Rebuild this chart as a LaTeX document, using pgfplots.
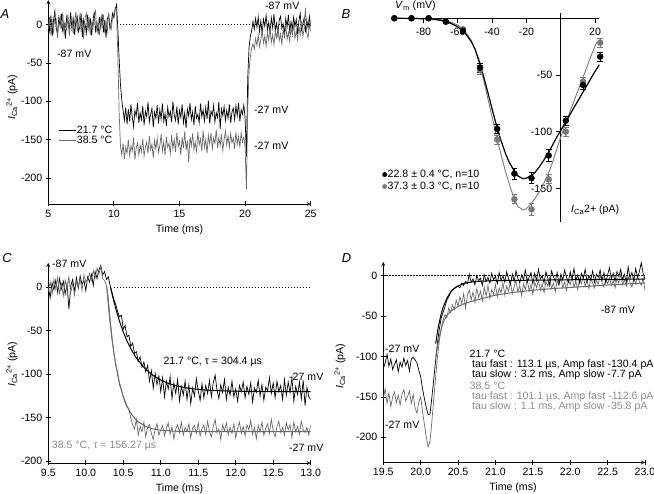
\documentclass[border=0pt]{standalone}
\usepackage{fontspec}
\setmainfont{Liberation Sans}
\usepackage{pgfplots}
\pgfplotsset{compat=1.18}
\usepackage{pgfplotstable}

\definecolor{trgray}{gray}{0.42}
\definecolor{ptgray}{gray}{0.47}
\definecolor{txgray}{gray}{0.55}
\newcommand{\fsz}{\fontsize{10.6}{12.7}\selectfont}
\newcommand{\Ica}{\textit{I}\textsubscript{Ca}\textsuperscript{2+} (pA)}

\pgfplotsset{
  igorbase/.style={
    scale only axis,
    axis line style={-, line width=0.8pt, black},
    tick align=outside,
    major tick length=5pt,
    tick style={black, line width=0.8pt},
    tick label style={font=\fsz},
    /pgf/number format/assume math mode=true,
    minor tick num=0,
  },
  igor/.style={igorbase, axis x line=bottom, axis y line=left},
  onedec/.style={x tick label style={/pgf/number format/.cd, fixed, fixed zerofill, precision=1, /tikz/.cd}},
  zeroline/.style={black, line width=0.6pt, dash pattern=on 1.5pt off 1.5pt, forget plot},
}

\pgfplotstableread{
t k g
5.0 3 -6
5.1 -8 10
5.2 12 -14
5.3 -15 4
5.4 6 -9
5.5 18 13
5.6 -4 7
5.7 -12 -17
5.8 9 2
5.9 -2 11
6.0 14 -5
6.1 -10 16
6.2 4 -11
6.3 -18 1
6.4 10 -7
6.5 2 14
6.6 -7 -15
6.7 16 5
6.8 -5 9
6.9 8 -12
7.0 -13 3
7.1 5 17
7.2 11 -8
7.3 -9 -1
7.4 -3 12
7.5 15 -10
7.6 -16 6
7.7 7 -19
7.8 1 8
7.9 -11 15
8.0 13 -4
8.1 -6 10
8.2 9 -13
8.3 -14 2
8.4 4 -6
8.5 17 11
8.6 -8 18
8.7 2 -9
8.8 -12 5
8.9 10 -14
9.0 -4 7
9.1 14 -2
9.2 -10 13
9.3 6 -11
9.4 -17 4
9.5 8 -8
9.6 12 16
9.7 -5 1
9.8 3 -6
9.9 15 10
10.0 9 14
10.1 20 22
10.2 26 18
10.3 -5 -40
10.4 -45 -115
10.5 -78 -158
10.6 -98 -170
10.7 -112 -155
10.8 -125 -175
10.9 -108 -160
11.0 -130 -168
11.1 -110 -150
11.2 -126 -171
11.3 -104 -158
11.4 -121 -165
11.5 -133 -147
11.6 -112 -176
11.7 -119 -161
11.8 -102 -154
11.9 -128 -170
12.0 -115 -157
12.1 -124 -166
12.2 -106 -149
12.3 -131 -172
12.4 -113 -160
12.5 -120 -153
12.6 -101 -168
12.7 -127 -145
12.8 -117 -163
12.9 -109 -156
13.0 -134 -174
13.1 -114 -151
13.2 -122 -162
13.3 -105 -148
13.4 -129 -167
13.5 -111 -158
13.6 -123 -143
13.7 -103 -165
13.8 -126 -153
13.9 -116 -170
14.0 -132 -146
14.1 -108 -160
14.2 -120 -155
14.3 -113 -168
14.4 -127 -144
14.5 -100 -162
14.6 -118 -150
14.7 -125 -166
14.8 -107 -141
14.9 -130 -159
15.0 -112 -152
15.1 -121 -170
15.2 -104 -147
15.3 -128 -161
15.4 -115 -139
15.5 -135 -164
15.6 -110 -151
15.7 -119 -180
15.8 -102 -146
15.9 -124 -158
16.0 -114 -142
16.1 -131 -163
16.2 -106 -153
16.3 -122 -167
16.4 -117 -140
16.5 -128 -157
16.6 -103 -149
16.7 -120 -165
16.8 -111 -138
16.9 -126 -160
17.0 -108 -150
17.1 -123 -168
17.2 -99 -144
17.3 -129 -156
17.4 -113 -141
17.5 -118 -162
17.6 -105 -148
17.7 -127 -155
17.8 -115 -137
17.9 -121 -161
18.0 -101 -147
18.1 -136 -158
18.2 -110 -143
18.3 -119 -164
18.4 -107 -150
18.5 -125 -139
18.6 -112 -157
18.7 -122 -145
18.8 -104 -160
18.9 -128 -142
19.0 -114 -154
19.1 -109 -148
19.2 -124 -162
19.3 -106 -140
19.4 -119 -156
19.5 -102 -146
19.6 -126 -159
19.7 -111 -141
19.8 -117 -153
19.9 -105 -147
20.0 -121 -160
20.1 -172 -215
20.2 -70 -110
20.3 -30 -60
20.4 -15 -42
20.5 -8 -30
20.6 4 -25
20.7 -6 -32
20.8 8 -18
20.9 -3 -27
21.0 10 -14
21.1 -9 -29
21.2 5 -19
21.3 -12 -8
21.4 7 -24
21.5 -2 -15
21.6 12 -28
21.7 -7 -10
21.8 3 -20
21.9 -10 -5
22.0 9 -23
22.1 -4 -13
22.2 14 -26
22.3 -8 -9
22.4 2 -17
22.5 -13 -3
22.6 6 -21
22.7 11 -12
22.8 -5 -25
22.9 1 -6
23.0 -11 -16
23.1 8 -1
23.2 -3 -19
23.3 13 -10
23.4 -9 -22
23.5 4 -4
23.6 -6 -14
23.7 10 2
23.8 -2 -18
23.9 7 -8
24.0 -12 -20
24.1 5 -2
24.2 15 -13
24.3 -7 5
24.4 0 -15
24.5 9 -6
24.6 -10 22
24.7 6 -11
24.8 -4 -17
24.9 11 0
25.0 -3 -9
}\tabA

\pgfplotstableread{
t k g
9.500 0 -5
9.525 -12 6
9.550 5 -8
9.575 -3 9
9.600 8 -2
9.625 -6 11
9.650 10 -7
9.675 -2 4
9.700 7 -10
9.725 -8 8
9.750 4 -3
9.775 -25 12
9.800 2 -6
9.825 9 5
9.850 -5 -9
9.875 11 7
9.900 -1 1
9.925 13 10
9.950 3 -4
9.975 8 14
10.000 -4 6
10.025 12 9
10.050 6 16
10.075 15 8
10.100 2 19
10.125 18 11
10.150 10 22
10.175 20 15
10.200 25 24
10.225 14 10
10.250 18 8
10.275 9 2
10.300 12 -12
10.325 2 -36
10.350 -6 -58
10.375 -14 -76
10.400 -20 -90
10.425 -28 -98
10.450 -34 -112
10.475 -32 -118
10.500 -48 -126
10.525 -44 -133
10.550 -57 -138
10.575 -55 -140
10.600 -68 -150
10.625 -64 -158
10.650 -76 -163
10.675 -74 -152
10.700 -85 -170
10.725 -80 -160
10.750 -92 -166
10.775 -86 -155
10.800 -97 -172
10.825 -90 -161
10.850 -108 -158
10.875 -96 -168
10.900 -116 -175
10.925 -99 -163
10.950 -112 -157
10.975 -102 -170
11.000 -120 -164
11.025 -104 -159
11.050 -126 -171
11.075 -108 -162
11.100 -117 -156
11.125 -103 -169
11.150 -128 -160
11.175 -110 -174
11.200 -122 -163
11.225 -106 -158
11.250 -131 -167
11.275 -114 -155
11.300 -124 -170
11.325 -108 -161
11.350 -129 -166
11.375 -112 -157
11.400 -134 -173
11.425 -116 -162
11.450 -125 -159
11.475 -105 -168
11.500 -119 -156
11.525 -130 -171
11.550 -111 -163
11.575 -127 -158
11.600 -113 -169
11.625 -122 -154
11.650 -107 -166
11.675 -126 -172
11.700 -110 -160
11.725 -101 -152
11.750 -118 -167
11.775 -128 -163
11.800 -112 -175
11.825 -121 -158
11.850 -106 -165
11.875 -129 -156
11.900 -115 -170
11.925 -124 -161
11.950 -108 -168
11.975 -126 -157
12.000 -117 -173
12.025 -131 -162
12.050 -113 -155
12.075 -120 -168
12.100 -109 -160
12.125 -127 -171
12.150 -114 -158
12.175 -123 -164
12.200 -110 -153
12.225 -132 -169
12.250 -116 -161
12.275 -121 -174
12.300 -107 -159
12.325 -125 -166
12.350 -112 -155
12.375 -130 -170
12.400 -115 -162
12.425 -119 -157
12.450 -104 -168
12.475 -122 -152
12.500 -110 -165
12.525 -127 -172
12.550 -108 -160
12.575 -120 -154
12.600 -113 -167
12.625 -129 -161
12.650 -106 -170
12.675 -124 -156
12.700 -109 -164
12.725 -121 -158
12.750 -104 -173
12.775 -131 -155
12.800 -114 -166
12.825 -123 -160
12.850 -109 -169
12.875 -128 -154
12.900 -107 -163
12.925 -136 -167
12.950 -115 -161
12.975 -126 -170
13.000 -129 -158
}\tabC

\pgfplotstableread{
t k g
19.500 -115 -152
19.525 -108 -140
19.550 -97 -158
19.575 -112 -145
19.600 -103 -162
19.625 -116 -150
19.650 -110 -144
19.675 -104 -157
19.700 -119 -148
19.725 -107 -160
19.750 -113 -146
19.775 -102 -141
19.800 -111 -155
19.825 -105 -149
19.850 -118 -143
19.875 -103 -158
19.900 -101 -147
19.925 -104 -164
19.950 -108 -170
19.975 -117 -156
20.000 -125 -150
20.025 -140 -168
20.050 -152 -184
20.075 -163 -200
20.100 -172 -212
20.125 -171 -205
20.150 -150 -180
20.175 -128 -152
20.200 -105 -125
20.225 -82 -100
20.250 -66 -80
20.275 -52 -65
20.300 -45 -55
20.325 -38 -48
20.350 -30 -52
20.375 -26 -40
20.400 -21 -46
20.425 -17 -36
20.450 -16 -42
20.475 -14 -30
20.500 -13 -38
20.525 -15 -26
20.550 -9 -35
20.575 -12 -22
20.600 -7 -40
20.625 -10 -24
20.650 2 -18
20.675 -8 -30
20.700 -4 -20
20.725 -11 -33
20.750 0 -16
20.775 -6 -27
20.800 -3 -19
20.825 -12 -31
20.850 1 -14
20.875 -7 -25
20.900 -2 -12
20.925 -9 -28
20.950 3 -17
20.975 -5 -23
21.000 -1 -11
21.025 -10 -26
21.050 4 -15
21.075 -6 -21
21.100 0 -9
21.125 -8 -24
21.150 5 -13
21.175 -4 -19
21.200 -11 -8
21.225 2 -22
21.250 -7 -14
21.275 6 -6
21.300 -3 -20
21.325 -9 -12
21.350 1 -25
21.375 -5 -10
21.400 7 -17
21.425 -8 -4
21.450 -2 -19
21.475 4 -11
21.500 -10 -23
21.525 3 -8
21.550 -6 -15
21.575 8 -5
21.600 -4 -18
21.625 0 -10
21.650 -9 -21
21.675 5 -7
21.700 -3 -13
21.725 -12 -3
21.750 6 -16
21.775 -1 -9
21.800 -7 -20
21.825 4 -6
21.850 -10 -12
21.875 2 -2
21.900 -5 -15
21.925 7 -8
21.950 -2 -18
21.975 -8 -5
22.000 5 -11
22.025 -4 -1
22.050 9 -14
22.075 -6 -7
22.100 1 -17
22.125 -9 -4
22.150 3 -10
22.175 -3 0
22.200 8 -13
22.225 -7 -6
22.250 0 -16
22.275 -5 -3
22.300 6 -9
22.325 -8 -15
22.350 2 -5
22.375 -2 -11
22.400 7 1
22.425 -6 -8
22.450 4 -14
22.475 -9 -4
22.500 1 -10
22.525 10 -2
22.550 -4 -12
22.575 3 -6
22.600 -7 -15
22.625 5 -3
22.650 -1 -9
22.675 8 2
22.700 -5 -11
22.725 2 -5
22.750 -8 -13
22.775 11 -1
22.800 -3 -8
22.825 4 -14
22.850 -6 -4
22.875 9 -10
22.900 -2 0
22.925 5 -7
22.950 16 -12
22.975 3 -3
23.000 -4 -18
}\tabD

\begin{document}
\begin{tikzpicture}[x=1pt,y=1pt]
\useasboundingbox (0,0) rectangle (654,494);

% ---------------- Panel A ----------------
\begin{axis}[igor, at={(48.3pt,290pt)}, anchor=south west,
  width=262.4pt, height=203.8pt,
  xmin=5, xmax=25, ymin=-234, ymax=32,
  xtick={5,10,15,20,25}, ytick={-200,-150,-100,-50,0},
  legend style={at={(axis cs:5.75,-130.5)}, anchor=north west, draw=none, fill=none,
    font=\fsz, inner sep=0pt, row sep=0pt, nodes={inner sep=0.8pt}},
  legend cell align=left]
\addplot[black, line width=0.7pt] table[x=t, y=k] {\tabA};
\addlegendentry{21.7 °C}
\addplot[trgray, line width=0.7pt] table[x=t, y=g] {\tabA};
\addlegendentry{38.5 °C}
\addplot[zeroline] coordinates {(10.45,0) (25,0)};
\end{axis}

% ---------------- Panel B ----------------
\begin{axis}[igorbase, axis lines=middle,
  axis line style={-, line width=0.8pt, black},
  every inner x axis line/.append style={-},
  every inner y axis line/.append style={-},
  tick align=outside,
  x tick label style={yshift=-1pt},
  at={(394.3pt,271.6pt)}, anchor=south west,
  width=205pt, height=209.8pt, clip=false,
  xmin=-97, xmax=22.5, ymin=-180, ymax=5,
  xtick={-80,-60,-40,-20,20}, ytick={-150,-100,-50},
  legend style={at={(axis cs:-104,-133)}, anchor=north west, draw=none, fill=none,
    font=\fsz, inner sep=0pt, row sep=1.5pt, nodes={inner sep=0.8pt}},
  legend cell align=left,
  legend image code/.code={\draw[#1] plot coordinates {(0.12cm,0cm)};}]
\addplot[ptgray, line width=0.9pt, forget plot] coordinates {
(-97,0) (-85,-0.1) (-75,-0.5) (-70,-1.2) (-65,-2.8) (-60,-6) (-57,-9.5) (-55,-13)
(-52,-20) (-50,-27) (-47,-42) (-45,-54) (-42,-74) (-40,-87) (-37,-107) (-35,-119)
(-32,-136) (-30,-146) (-27,-160) (-25,-166) (-22,-169) (-20,-168) (-17,-163) (-15,-159)
(-12,-152) (-10,-146) (-7,-136) (-5,-128) (-2,-114) (0,-105) (3,-92) (5,-84)
(8,-72) (10,-64) (13,-52) (15,-44) (18,-32) (21,-21)};
\addplot[black, line width=1.2pt, forget plot] coordinates {
(-97,0) (-85,-0.2) (-75,-0.8) (-70,-1.8) (-65,-3.8) (-60,-7.5) (-57,-11) (-55,-14.5)
(-52,-21) (-50,-27) (-47,-40) (-45,-51) (-42,-68) (-40,-80) (-37,-97) (-35,-107)
(-32,-120) (-30,-127) (-27,-135) (-25,-139) (-22,-141.5) (-20,-141) (-17,-138.5)
(-15,-136) (-12,-130) (-10,-125.5) (-7,-118) (-5,-112.5) (-2,-104) (0,-99) (3,-91)
(5,-86) (8,-78) (10,-73) (13,-65) (15,-60) (18,-52) (20,-47) (22.5,-41)};
\addplot[only marks, mark=*, mark size=3pt, ptgray, mark options={draw=ptgray, fill=ptgray}, forget plot,
  error bars/.cd, y dir=both, y explicit,
  error bar style={ptgray, line width=0.8pt},
  error mark options={rotate=90, mark size=2.8pt, line width=0.8pt, ptgray}]
  coordinates {
(-97,0) +- (0,1) (-87,0) +- (0,1) (-77,0) +- (0,1) (-67,-3) +- (0,1.5)
(-57,-9.7) +- (0,2) (-47,-45.6) +- (0,4) (-37,-107) +- (0,4) (-27,-159.6) +- (0,4)
(-17,-168.5) +- (0,5) (-7,-142) +- (0,4) (3,-100) +- (0,4) (13,-55.9) +- (0,4)
(23,-21.5) +- (0,4)};
\addplot[only marks, mark=*, mark size=3pt, black, forget plot,
  error bars/.cd, y dir=both, y explicit,
  error bar style={black, line width=0.8pt},
  error mark options={rotate=90, mark size=2.8pt, line width=0.8pt, black}]
  coordinates {
(-97,0) +- (0,1) (-87,0) +- (0,1) (-77,0) +- (0,1) (-67,-3) +- (0,1.5)
(-57,-11) +- (0,2) (-47,-43.5) +- (0,4) (-37,-97.6) +- (0,4) (-27,-137) +- (0,5)
(-17,-141) +- (0,5) (-7,-121) +- (0,5) (3,-90.3) +- (0,4) (13,-58.8) +- (0,4)
(23,-33.8) +- (0,4)};
\addlegendimage{only marks, mark=*, mark size=2.2pt, black}
\addlegendentry{22.8 ± 0.4 °C, n=10}
\addlegendimage{only marks, mark=*, mark size=2.2pt, ptgray, mark options={draw=ptgray, fill=ptgray}}
\addlegendentry{37.3 ± 0.3 °C, n=10}
\end{axis}

% ---------------- Panel C ----------------
\begin{axis}[igor, onedec, at={(48.3pt,31pt)}, anchor=south west,
  width=262.4pt, height=200.1pt,
  xmin=9.5, xmax=13, ymin=-202, ymax=28,
  xtick={9.5,10,10.5,11,11.5,12,12.5,13}, ytick={-200,-150,-100,-50,0}]
\addplot[zeroline] coordinates {(10.37,0) (13,0)};
\addplot[black, line width=0.7pt] table[x=t, y=k] {\tabC};
\addplot[trgray, line width=0.7pt] table[x=t, y=g] {\tabC};
\addplot[trgray, line width=1pt] coordinates {
(10.28,0) (10.3,-19.9) (10.325,-41.5) (10.35,-59.9) (10.375,-75.6) (10.4,-89)
(10.425,-100.4) (10.45,-110) (10.475,-118.3) (10.5,-125.4) (10.55,-136.5)
(10.6,-144.6) (10.65,-150.4) (10.7,-154.7) (10.8,-160) (10.9,-162.9) (11,-164.3)
(11.2,-165.5) (11.5,-165.9) (12,-166) (13,-166)};
\addplot[black, line width=1pt] coordinates {
(10.33,0) (10.35,-7.6) (10.4,-24.7) (10.45,-39.1) (10.5,-51.4) (10.55,-61.8)
(10.6,-70.5) (10.65,-78.1) (10.7,-84.4) (10.8,-94.4) (10.9,-101.5) (11,-106.7)
(11.1,-110.4) (11.2,-113.1) (11.3,-115) (11.4,-116.4) (11.6,-118.2) (11.8,-119)
(12,-119.5) (12.5,-119.9) (13,-120)};
\end{axis}

% ---------------- Panel D ----------------
\begin{axis}[igor, onedec, at={(383.3pt,31.6pt)}, anchor=south west,
  width=261.7pt, height=200.4pt,
  xmin=19.5, xmax=23, ymin=-231, ymax=17,
  xtick={19.5,20,20.5,21,21.5,22,22.5,23}, ytick={-200,-150,-100,-50,0}]
\addplot[zeroline] coordinates {(19.5,0) (23,0)};
\addplot[trgray, line width=0.7pt] table[x=t, y=g] {\tabD};
\addplot[black, line width=0.7pt] table[x=t, y=k] {\tabD};
\addplot[trgray, line width=1pt] coordinates {
(20.2,-100) (20.25,-75) (20.3,-58) (20.35,-49) (20.4,-44) (20.5,-38) (20.6,-34)
(20.75,-30) (21,-24) (21.25,-20.5) (21.5,-18) (21.75,-16) (22,-14.5) (22.5,-11.5) (23,-9)};
\addplot[black, line width=1pt] coordinates {
(20.2,-84) (20.225,-69) (20.25,-57) (20.275,-47) (20.3,-39) (20.35,-28) (20.4,-20)
(20.45,-15.5) (20.5,-12.5) (20.6,-9) (20.7,-7.5) (20.8,-6.8) (21,-6) (21.5,-5.5)
(22,-5) (22.5,-4.5) (23,-4.2)};
\end{axis}

% ---------------- Text ----------------
\begin{scope}[every node/.style={font=\fsz, inner sep=0pt}]
% panel letters
\node[font=\fontsize{13}{15}\selectfont\itshape] at (5,480) {A};
\node[font=\fontsize{13}{15}\selectfont\itshape] at (346,480) {B};
\node[font=\fontsize{13}{15}\selectfont\itshape] at (7,236) {C};
\node[font=\fontsize{13}{15}\selectfont\itshape] at (346.5,236) {D};
% axis labels
\node[rotate=90] at (12,397) {\Ica};
\node[rotate=90] at (12,130) {\Ica};
\node[rotate=90] at (340,128) {\Ica};
\node at (179.5,264) {Time (ms)};
\node at (179.5,5) {Time (ms)};
\node at (513,6) {Time (ms)};
\node[anchor=west] at (395,488) {\textit{V}\textsubscript{m} (mV)};
\node[anchor=west] at (571,284) {\textit{I}\textsubscript{Ca}2+ (pA)};
% panel A notes
\node[anchor=west] at (57,440) {-87 mV};
\node[anchor=west] at (265,488) {-87 mV};
\node[anchor=west] at (254,384) {-27 mV};
\node[anchor=west] at (254,348) {-27 mV};
% panel C notes
\node[anchor=west] at (52,230) {-87 mV};
\node[anchor=west] at (163.3,131.7) {21.7 °C, τ = 304.4 µs};
\node[anchor=west] at (289,117.5) {-27 mV};
\node[anchor=west] at (289,46) {-27 mV};
\node[anchor=west, text=txgray] at (51.7,48) {38.5 °C, τ = 156.27 µs};
% panel D notes
\node[anchor=west] at (385,145) {-27 mV};
\node[anchor=west] at (385,69) {-27 mV};
\node[anchor=west] at (600.7,184.5) {-87 mV};
\node[anchor=west] at (469.5,140) {21.7 °C};
\node[anchor=west] at (472,129) {tau fast : 113.1 µs, Amp fast -130.4 pA};
\node[anchor=west] at (472,119.7) {tau slow : 3.2 ms, Amp slow -7.7 pA};
\node[anchor=west, text=txgray] at (469.5,108) {38.5 °C};
\node[anchor=west, text=txgray] at (472,97.3) {tau fast : 101.1 µs, Amp fast -112.6 pA};
\node[anchor=west, text=txgray] at (472,87.3) {tau slow : 1.1 ms, Amp slow -35.8 pA};
\end{scope}
\end{tikzpicture}
\end{document}
